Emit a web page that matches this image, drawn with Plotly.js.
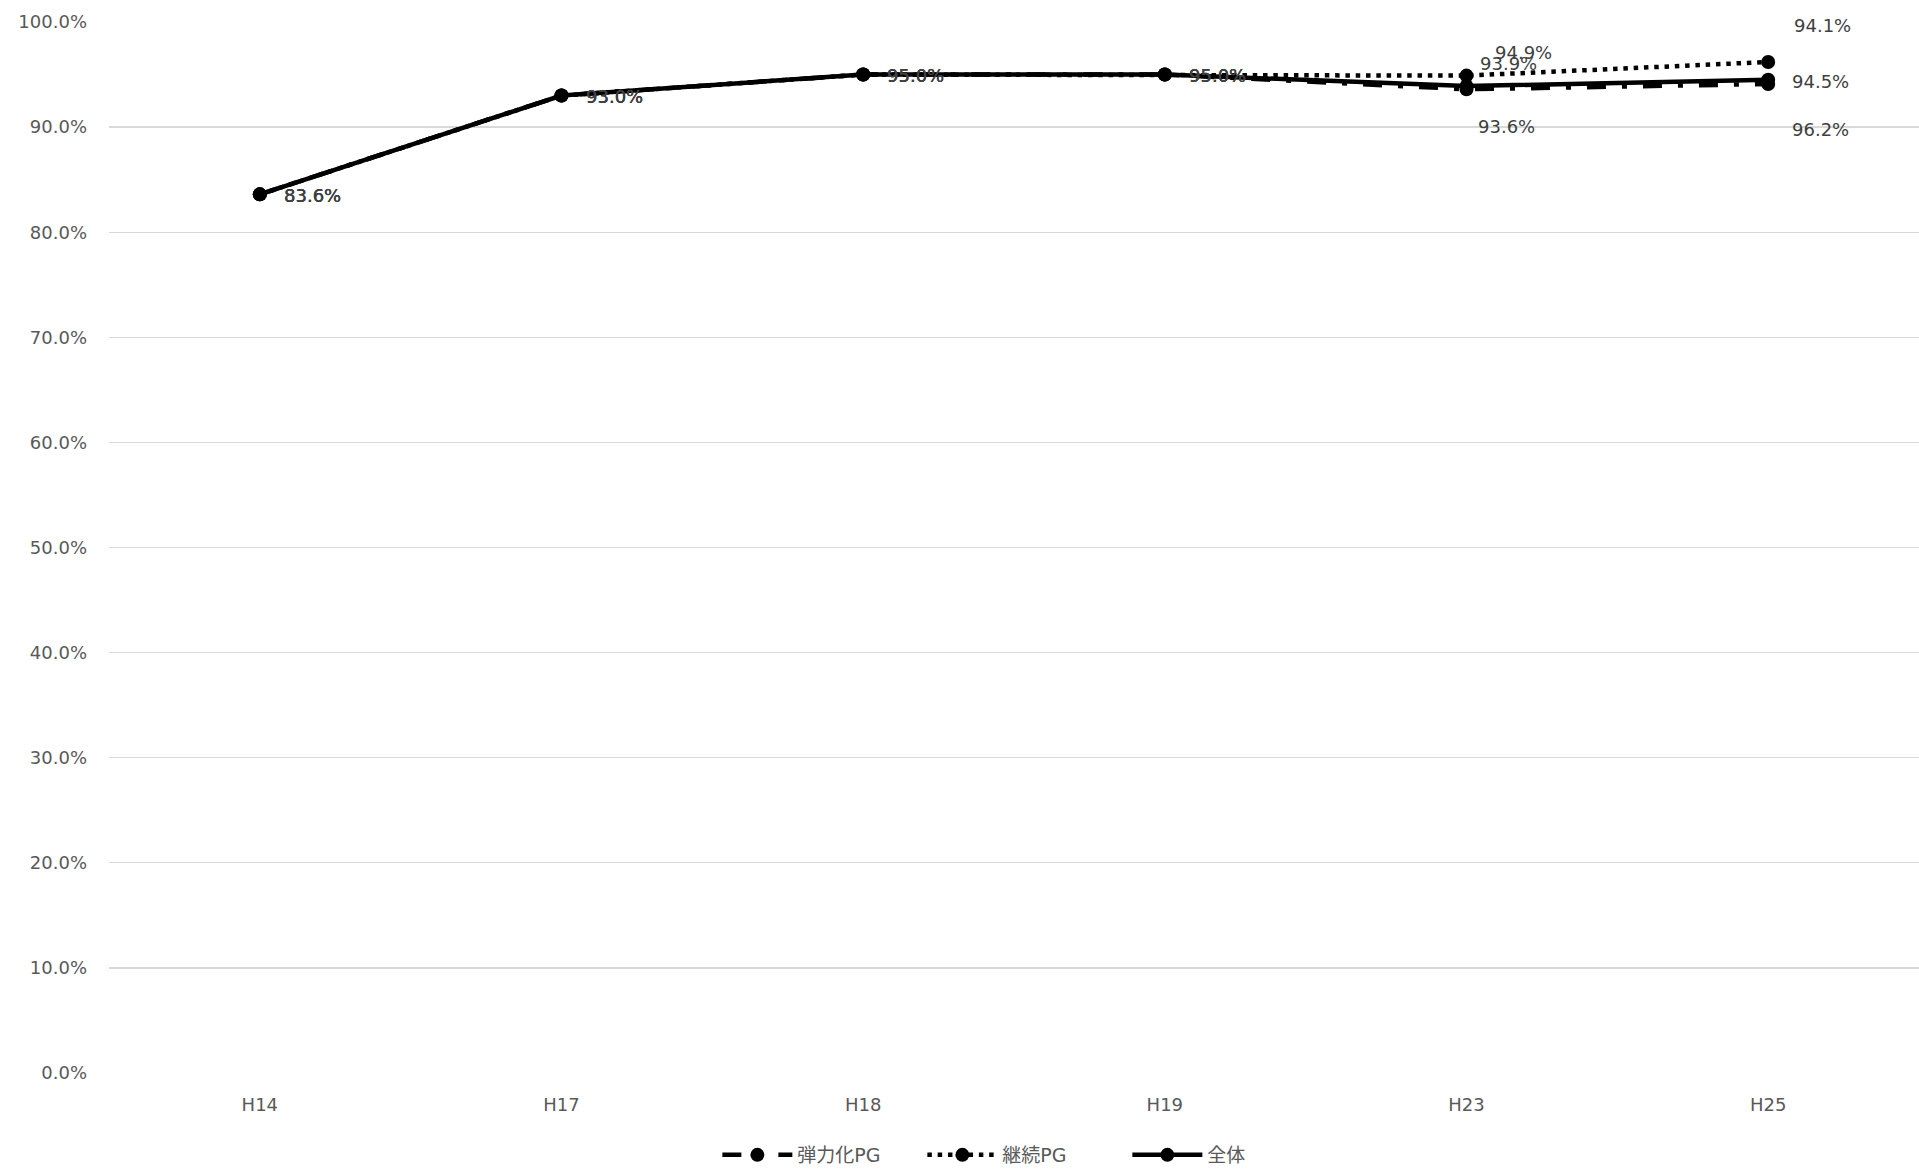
<!DOCTYPE html>
<html>
<head>
<meta charset="utf-8">
<script src="https://cdn.plot.ly/plotly-3.0.1.min.js"></script>
<style>html,body{margin:0;padding:0;background:#fff;}#chart{width:1919px;height:1174px;}</style>
</head>
<body>
<div id="chart"></div>
<script>
// ---- data ----
const categories = ["H14", "H17", "H18", "H19", "H23", "H25"];
const seriesNames = ["弾力化PG", "継続PG", "全体"];
const danryokuPG = [83.6, 93.0, 95.0, 95.0, 93.6, 94.1];
const keizokuPG  = [83.6, 93.0, 95.0, 95.0, 94.9, 96.2];
const zentai     = [83.6, 93.0, 95.0, 95.0, 93.9, 94.5];
const yTicks = [0, 10, 20, 30, 40, 50, 60, 70, 80, 90, 100];

// ---- styles ----
const seriesValues = [danryokuPG, keizokuPG, zentai];
const dashes = ["19px,16px,5px,16px", "4.5px,5.8px", "solid"];
const widths = [4.5, 4.5, 4.5];
// label offsets (px) per series per point: [xshift, yshift]
const defOff = [22, -1];
const labelOffsets = [
  [defOff, defOff, defOff, defOff, [9, -37], [24, 59]],
  [defOff, defOff, defOff, defOff, [26, 23], [22, -68]],
  [defOff, defOff, defOff, defOff, [11, 23], [22, -2]]
];

const traces = seriesValues.map((vals, i) => ({
  type: "scatter",
  mode: "lines+markers",
  name: seriesNames[i],
  x: categories,
  y: vals,
  line: {color: "#000000", width: widths[i], dash: dashes[i]},
  marker: {color: "#000000", size: 14, symbol: "circle"},
  hoverinfo: "skip"
}));

const annotations = [];
seriesValues.forEach((vals, i) => {
  vals.forEach((v, j) => {
    annotations.push({
      x: categories[j], y: v, xref: "x", yref: "y",
      text: v.toFixed(1) + "%",
      showarrow: false, xanchor: "left", yanchor: "middle",
      xshift: labelOffsets[i][j][0], yshift: labelOffsets[i][j][1],
      font: {family: "DejaVu Sans", size: 18, color: "#404040"}
    });
  });
});

const layout = {
  width: 1919, height: 1174,
  margin: {l: 109, r: 0, t: 22, b: 101},
  paper_bgcolor: "#ffffff", plot_bgcolor: "#ffffff",
  showlegend: true,
  legend: {
    orientation: "h", x: 0.506, xanchor: "center", y: -0.078, yanchor: "middle",
    font: {family: "DejaVu Sans, Noto Sans CJK JP", size: 19, color: "#595959"},
    itemwidth: 70, entrywidth: 120, entrywidthmode: "pixels", traceorder: "normal"
  },
  xaxis: {
    type: "category", range: [-0.5, 5.5], showgrid: false, zeroline: false,
    showline: false, ticks: "", ticklabelstandoff: 19,
    tickfont: {family: "DejaVu Sans", size: 18, color: "#595959"}
  },
  yaxis: {
    range: [0, 100], tickvals: yTicks, ticktext: yTicks.map(t => t.toFixed(1) + "%"),
    showgrid: true, gridcolor: "#d9d9d9", gridwidth: 1.3, zeroline: false, showline: false,
    ticks: "", ticklabelstandoff: 21,
    tickfont: {family: "DejaVu Sans", size: 18, color: "#595959"}
  },
  annotations: annotations
};

Plotly.newPlot("chart", traces, layout, {displayModeBar: false, staticPlot: true});
</script>
</body>
</html>
